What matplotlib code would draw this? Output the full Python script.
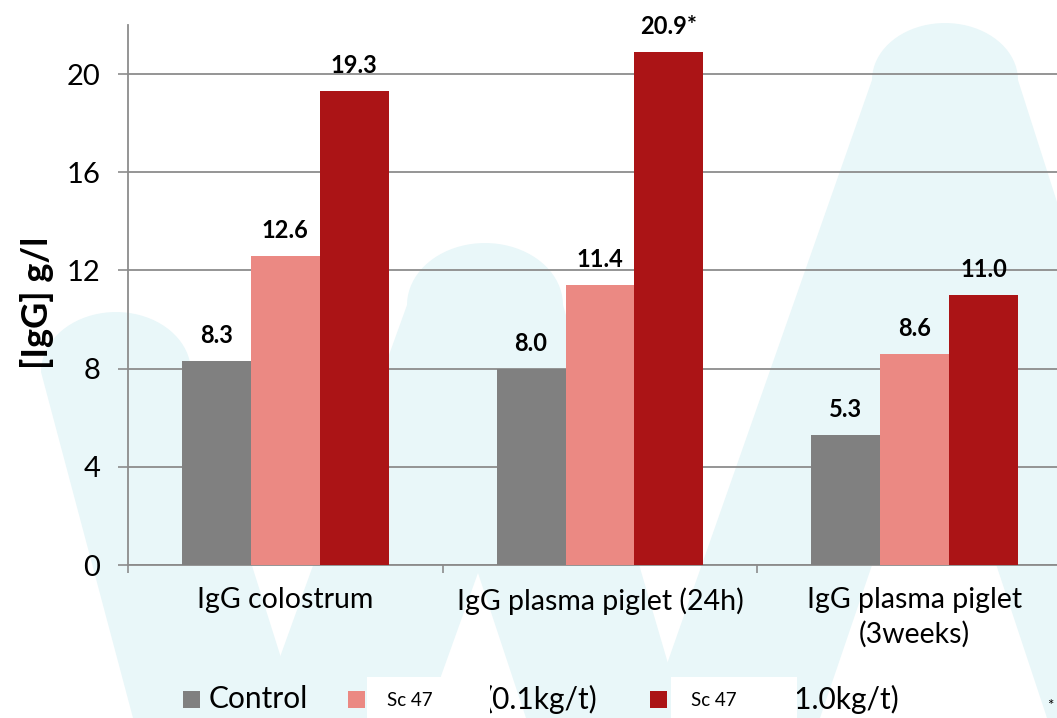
import numpy as np
import matplotlib.pyplot as plt
from matplotlib.patches import Polygon, Rectangle

plt.rcParams['font.family'] = ['Lato', 'DejaVu Sans']

# --- data ---
categories = ['IgG colostrum', 'IgG plasma piglet (24h)', 'IgG plasma piglet\n(3weeks)']
control = [8.3, 8.0, 5.3]
sc47_low = [12.6, 11.4, 8.6]
sc47_high = [19.3, 20.9, 11.0]
high_marks = ['', '*', '']
series_names = ['Control', 'Sc 47', 'Sc 47']
series_doses = ['', '(0.1kg/t)', '(1.0kg/t)']
colors = ['#808080', '#eb8983', '#ab1416']
yticks = [0, 4, 8, 12, 16, 20]

W, H = 1057, 718
fig = plt.figure(figsize=(W / 100, H / 100), dpi=100)


def px(x, y):
    return (x / W, 1 - y / H)


def hump(cx, cy, rx, ry, n=40):
    t = np.linspace(np.pi, 0, n)
    return [(cx + rx * np.cos(a), cy - ry * np.sin(a)) for a in t]


# pale "W" watermark behind the chart
pale = '#e9f7f9'
shapes = [
    [(133, 718)] + hump(116, 372, 75, 60) + [(300, 718)],
    [(258, 718)] + hump(485, 305, 78, 62) + [(684, 718), (526, 718), (478, 573), (426, 718)],
    [(648, 718)] + hump(945, 80, 73, 57) + [(1222, 718), (1047, 718), (935, 380), (820, 718)],
]
for s in shapes:
    fig.add_artist(Polygon([px(x, y) for x, y in s], closed=True, transform=fig.transFigure,
                           facecolor=pale, edgecolor='none', zorder=0))

# axes (right edge runs past the picture, as in the original)
ax = fig.add_axes([128 / W, 1 - 565 / H, (1072 - 128) / W, 540 / H])
ax.set_facecolor('none')
ax.set_zorder(1)

x = np.arange(len(categories))
bw = 0.219
for i, (vals, c) in enumerate(zip([control, sc47_low, sc47_high], colors)):
    ax.bar(x + (i - 1) * bw, vals, width=bw, color=c, zorder=3)

for i, vals in enumerate([control, sc47_low, sc47_high]):
    for j, v in enumerate(vals):
        lab = f'{v:.1f}' + (high_marks[j] if i == 2 else '')
        ax.annotate(lab, (x[j] + (i - 1) * bw, v), xytext=(0, 10), textcoords='offset points',
                    ha='center', va='bottom', fontsize=17, fontweight='bold', color='black')

ax.set_xlim(-0.5, 2.5)
ax.set_ylim(0, 22)
ax.set_yticks(yticks)
ax.set_yticklabels([str(t) for t in yticks], fontsize=21)
ax.tick_params(axis='y', length=7, width=1.2, color='#8c8c8c', pad=13)
ax.grid(axis='y', color='#8c8c8c', linewidth=1.3, zorder=1)
ax.set_axisbelow(True)

ax.set_xticks(np.arange(-0.5, 3.0, 1.0))
ax.set_xticklabels([])
ax.tick_params(axis='x', which='major', length=6, width=1.2, color='#8c8c8c')
ax.set_xticks(x, minor=True)
ax.set_xticklabels(categories, minor=True, fontsize=20.5, linespacing=1.35)
ax.tick_params(axis='x', which='minor', length=0, pad=16)

for side in ['top', 'right']:
    ax.spines[side].set_visible(False)
for side in ['left', 'bottom']:
    ax.spines[side].set_color('#8c8c8c')
    ax.spines[side].set_linewidth(1.3)

fig.text(37 / W, 1 - 303 / H, '[IgG] g/l', rotation=90, ha='center', va='center',
         fontsize=26, fontweight='bold')

# legend row, drawn by hand like the slide
sq = 17
leg_y = 699
fig.add_artist(Rectangle(px(183, leg_y + sq / 2), sq / W, sq / H, transform=fig.transFigure,
                         facecolor=colors[0], edgecolor='none', zorder=2))
fig.text(*px(209, leg_y), series_names[0], fontsize=21.5, va='center', ha='left', zorder=2)

boxes = [(348, 367, 490, 485), (650, 671, 797, 787)]
for k, (sx, bx0, bx1, tx) in enumerate(boxes, start=1):
    fig.add_artist(Rectangle(px(sx, leg_y + sq / 2), sq / W, sq / H, transform=fig.transFigure,
                             facecolor=colors[k], edgecolor='none', zorder=2))
    fig.text(*px(tx, leg_y), series_doses[k], fontsize=21.5, va='center', ha='left', zorder=2)
    fig.add_artist(Rectangle(px(bx0, 718), (bx1 - bx0) / W, 41 / H, transform=fig.transFigure,
                             facecolor='white', edgecolor='none', zorder=3))
    fig.text(*px(bx0 + 20, leg_y + 1), series_names[k], fontsize=13.5, va='center', ha='left',
             zorder=4)

fig.text(*px(1050, 706), '*', fontsize=11, ha='center', va='center')

fig.savefig('out.png', dpi=100)
